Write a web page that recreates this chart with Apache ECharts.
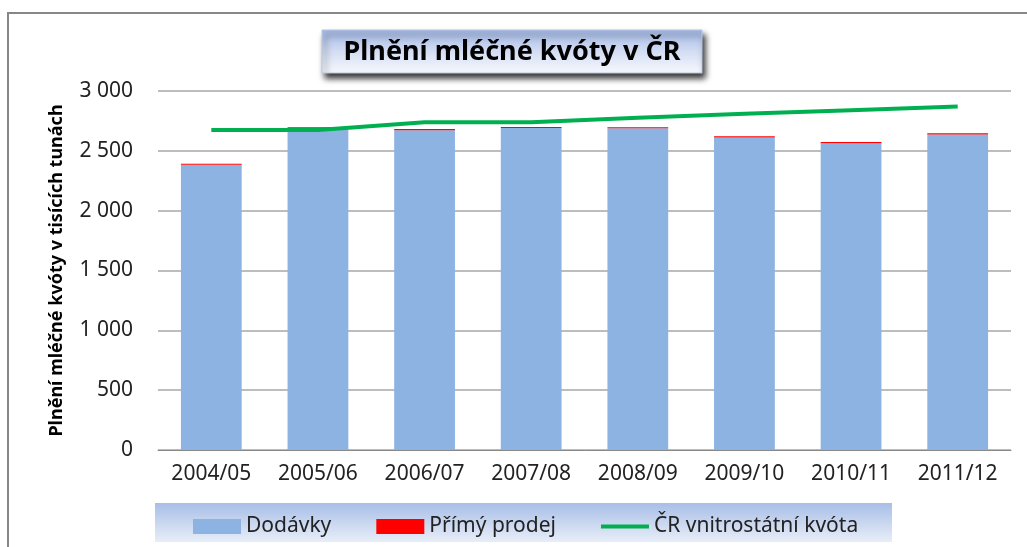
<!DOCTYPE html>
<html>
<head>
<meta charset="utf-8">
<script src="https://cdn.jsdelivr.net/npm/echarts@6/dist/echarts.min.js"></script>
<style>
    html, body { margin: 0; padding: 0; background: #fff; }
    #chart { width: 1027px; height: 547px; }
</style>
</head>
<body>
<div id="chart"></div>
<script>
// data (tisíce tun)
const years = ['2004/05', '2005/06', '2006/07', '2007/08', '2008/09', '2009/10', '2010/11', '2011/12']
const dodavky = [2383, 2687, 2672, 2690, 2688, 2612, 2564, 2637]
const primyProdej = [10, 10, 10, 10, 9, 9, 9, 9]
const kvota = [2675, 2675, 2738, 2738, 2777, 2810, 2840, 2870]

const font = '"Noto Sans", "Open Sans", sans-serif'
const myChart = echarts.init(document.getElementById('chart'))

myChart.setOption({
    animation: false,
    textStyle: { fontFamily: font },
    grid: {
        left: 158,
        right: 16,
        top: 91,
        bottom: 97
    },
    graphic: [
        // ramecek
        {
            type: 'rect',
            shape: { x: 8, y: 13, width: 1030, height: 560 },
            style: { fill: 'none', stroke: '#878787', lineWidth: 2 },
            z: 0
        },
        // box titulku
        {
            type: 'rect',
            shape: { x: 322, y: 30, width: 380, height: 43 },
            style: {
                fill: new echarts.graphic.LinearGradient(0, 0, 0, 1, [
                    { offset: 0, color: '#a3b9e7' },
                    { offset: 0.5, color: '#d3ddf3' },
                    { offset: 1, color: '#f7f9fd' }
                ]),
                stroke: '#b8c6e4',
                lineWidth: 1,
                shadowBlur: 6,
                shadowOffsetX: 3,
                shadowOffsetY: 5,
                shadowColor: 'rgba(0,0,0,0.8)'
            },
            z: 10
        },
        {
            type: 'text',
            x: 512,
            y: 52,
            style: {
                text: 'Plnění mléčné kvóty v ČR',
                fill: '#000',
                font: 'bold 27px ' + font,
                align: 'center',
                verticalAlign: 'middle'
            },
            z: 11
        },
        // box legendy
        {
            type: 'rect',
            shape: { x: 155, y: 503, width: 737, height: 39 },
            style: {
                fill: new echarts.graphic.LinearGradient(0, 0, 0, 1, [
                    { offset: 0, color: '#a8bee7' },
                    { offset: 1, color: '#e8eef8' }
                ])
            },
            z: 1
        }
    ],
    legend: {
        left: 188,
        top: 511,
        itemWidth: 48,
        itemHeight: 15,
        itemGap: 45,
        textStyle: {
            fontSize: 21,
            color: '#222',
            fontFamily: font
        },
        z: 5,
        data: [
            { name: 'Dodávky', icon: 'rect' },
            { name: 'Přímý prodej', icon: 'rect' },
            // tenka cara misto ikony se symbolem
            { name: 'ČR vnitrostátní kvóta', icon: 'path://M0,0L48,0L48,4L0,4Z' }
        ]
    },
    xAxis: {
        type: 'category',
        data: years,
        axisLine: { lineStyle: { color: '#888', width: 1 } },
        axisTick: { show: false },
        axisLabel: {
            interval: 0,
            color: '#222',
            fontSize: 21,
            margin: 14
        }
    },
    yAxis: {
        type: 'value',
        min: 0,
        max: 3000,
        interval: 500,
        name: 'Plnění mléčné kvóty v tisících tunách',
        nameLocation: 'middle',
        nameGap: 92,
        nameTextStyle: {
            fontSize: 18,
            fontWeight: 'bold',
            color: '#000'
        },
        axisLine: { show: false },
        axisTick: { show: false },
        splitLine: { lineStyle: { color: '#bdbdbd', width: 2 } },
        axisLabel: {
            color: '#222',
            fontSize: 21,
            margin: 25,
            formatter: (v) => v >= 1000 ? Math.floor(v / 1000) + ' ' + String(v % 1000).padStart(3, '0') : String(v)
        }
    },
    series: [
        {
            name: 'Dodávky',
            type: 'bar',
            stack: 'plneni',
            data: dodavky,
            barWidth: '57%',
            itemStyle: { color: '#8db3e2' }
        },
        {
            name: 'Přímý prodej',
            type: 'bar',
            stack: 'plneni',
            data: primyProdej,
            itemStyle: { color: '#ff0000' }
        },
        {
            name: 'ČR vnitrostátní kvóta',
            type: 'line',
            data: kvota,
            symbol: 'none',
            lineStyle: { color: '#00b050', width: 4 },
            itemStyle: { color: '#00b050' },
            z: 4
        }
    ]
})
</script>
</body>
</html>
